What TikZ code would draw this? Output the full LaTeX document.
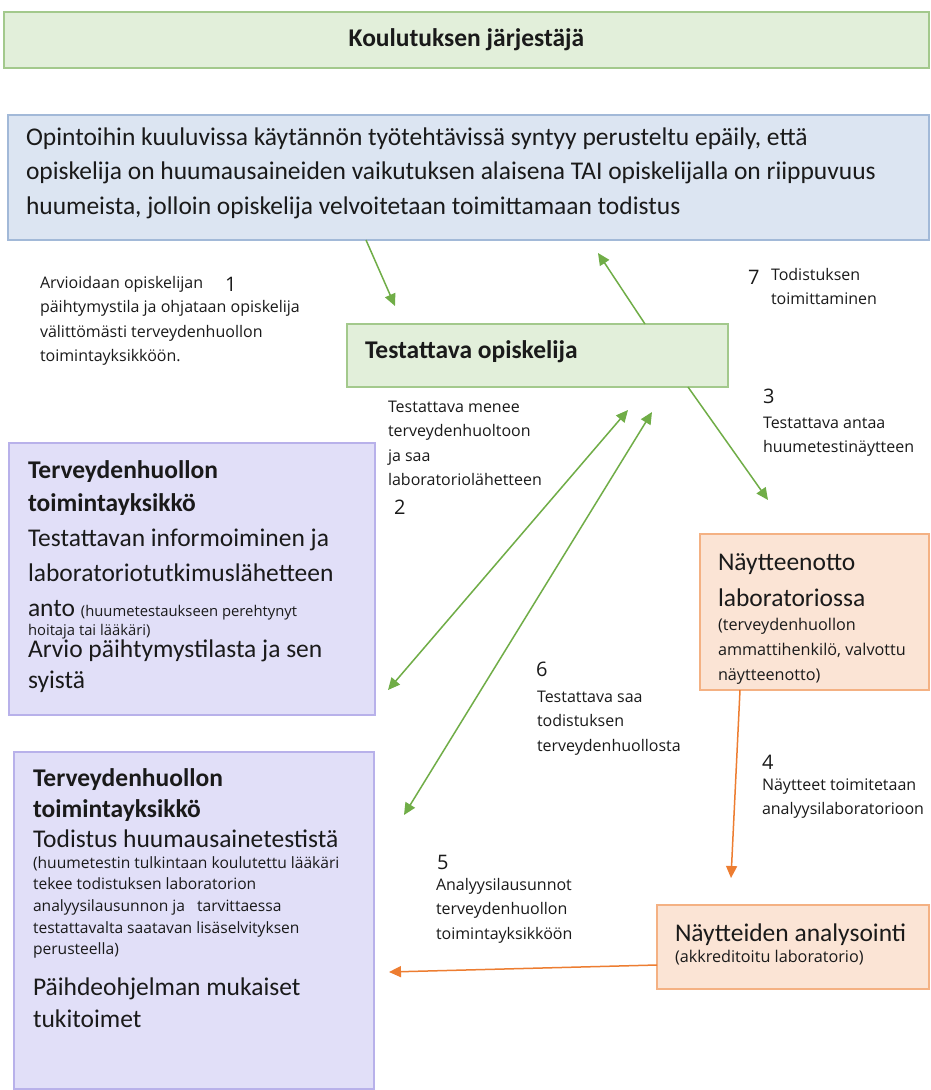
\documentclass[tikz,border=0pt]{standalone}
\usepackage{fontspec}
\setmainfont{Carlito}
\newfontfamily\labfont{Open Sans}
\usetikzlibrary{arrows.meta,calc}
\definecolor{gfill}{HTML}{E2EFDA}
\definecolor{gline}{HTML}{A3C98C}
\definecolor{bfill}{HTML}{DCE5F2}
\definecolor{bline}{HTML}{A2B9D8}
\definecolor{pfill}{HTML}{E1DFF8}
\definecolor{pline}{HTML}{B8B1EA}
\definecolor{ofill}{HTML}{FBE4D5}
\definecolor{oline}{HTML}{F4B183}
\definecolor{garrc}{HTML}{70AD47}
\definecolor{oarrc}{HTML}{ED7D31}
\definecolor{txtc}{HTML}{1A1A1A}
\tikzset{
  box/.style={draw, line width=1.3pt, anchor=north west, inner sep=0pt, outer sep=0pt},
  gbox/.style={box, fill=gfill, draw=gline},
  bbox/.style={box, fill=bfill, draw=bline},
  pbox/.style={box, fill=pfill, draw=pline},
  obox/.style={box, fill=ofill, draw=oline},
  tl/.style={anchor=north west, inner sep=0pt, outer sep=0pt, align=left, text=txtc},
  lab/.style={tl, font=\labfont\fontsize{16}{24.5}\selectfont},
  num/.style={anchor=base west, inner sep=0pt, outer sep=0pt, text=txtc, font=\labfont\fontsize{20}{22}\selectfont},
  garr/.style={draw=garrc, line width=1.5pt, -{Triangle[length=12pt,width=11pt]}},
  garrb/.style={draw=garrc, line width=1.5pt, {Triangle[length=12pt,width=11pt]}-{Triangle[length=12pt,width=11pt]}},
  oarr/.style={draw=oarrc, line width=1.5pt, -{Triangle[length=12pt,width=11pt]}},
}
\begin{document}
\begin{tikzpicture}[x=1pt,y=-1pt]
\useasboundingbox (0,0) rectangle (930,1090);
\fill[white] (0,0) rectangle (930,1090);

% boxes
\node[gbox, minimum width=925pt, minimum height=56pt, text=txtc, font=\bfseries\fontsize{25.5}{30}\selectfont] (org) at (4,12) {Koulutuksen järjestäjä};
\node[bbox, minimum width=921pt, minimum height=125pt] (susp) at (8,115) {};
\node[gbox, minimum width=381pt, minimum height=63pt] (stud) at (347,324) {};
\node[pbox, minimum width=366pt, minimum height=272pt] (hc1) at (9,443) {};
\node[pbox, minimum width=360pt, minimum height=337pt] (hc2) at (14,752) {};
\node[obox, minimum width=229pt, minimum height=156pt] (lab1) at (700,534) {};
\node[obox, minimum width=272pt, minimum height=84pt] (lab2) at (657,905) {};

% box texts
\node[tl, font=\fontsize{25.5}{34.5}\selectfont] (suspt) at (26,120.9) {\strut Opintoihin kuuluvissa käytännön työtehtävissä syntyy perusteltu epäily, että\\opiskelija on huumausaineiden vaikutuksen alaisena TAI opiskelijalla on riippuvuus\\huumeista, jolloin opiskelija velvoitetaan toimittamaan todistus};

\node[tl, font=\bfseries\fontsize{25.5}{30}\selectfont] (studt) at (365,337) {\strut Testattava opiskelija};

\node[tl, font=\bfseries\fontsize{25.5}{33}\selectfont] (hc1a) at (28,454.9) {\strut Terveydenhuollon\\toimintayksikkö};
\node[tl, font=\fontsize{25.5}{35}\selectfont] (hc1b) at (28,521.5) {\strut Testattavan informoiminen ja\\laboratoriotutkimuslähetteen\\anto {\labfont\fontsize{14.8}{20}\selectfont (huumetestaukseen perehtynyt}};
\node[tl, font=\labfont\fontsize{14.8}{20}\selectfont] (hc1c) at (28,621) {\strut hoitaja tai lääkäri)};
\node[tl, font=\fontsize{25.5}{31}\selectfont] (hc1d) at (28,636) {\strut Arvio päihtymystilasta ja sen\\syistä};

\node[tl, font=\bfseries\fontsize{25.5}{31}\selectfont] (hc2a) at (33,764.3) {\strut Terveydenhuollon\\toimintayksikkö};
\node[tl, font=\fontsize{25.5}{31}\selectfont] (hc2b) at (33,825.3) {\strut Todistus huumausainetestistä};
\node[tl, font=\labfont\fontsize{15.6}{21.7}\selectfont] (hc2c) at (33,852.8) {\strut (huumetestin tulkintaan koulutettu lääkäri\\tekee todistuksen laboratorion\\analyysilausunnon ja\ \ \ tarvittaessa\\testattavalta saatavan lisäselvityksen\\perusteella)};
\node[tl, font=\fontsize{25.5}{32}\selectfont] (hc2d) at (33,972.6) {\strut Päihdeohjelman mukaiset\\tukitoimet};

\node[tl, font=\fontsize{25.5}{36}\selectfont] (lab1a) at (718,544.8) {\strut Näytteenotto\\laboratoriossa};
\node[tl, font=\labfont\fontsize{16.2}{25}\selectfont] (lab1b) at (718,612.5) {\strut (terveydenhuollon\\ammattihenkilö, valvottu\\näytteenotto)};

\node[tl, font=\fontsize{25.5}{30}\selectfont] (lab2a) at (675,920) {\strut Näytteiden analysointi};
\node[tl, font=\labfont\fontsize{16.2}{21}\selectfont] (lab2b) at (675,948) {\strut (akkreditoitu laboratorio)};

% step labels
\node[lab] (l1) at (40,270.9) {\strut Arvioidaan opiskelijan\\päihtymystila ja ohjataan opiskelija\\välittömästi terveydenhuollon\\toimintayksikköön.};
\node[num] (n1) at (225,291) {1};
\node[lab] (l7) at (771,262.9) {\strut Todistuksen\\toimittaminen};
\node[num] (n7) at (748,284) {7};
\node[lab] (l2) at (388,394.9) {\strut Testattava menee\\terveydenhuoltoon\\ja saa\\laboratoriolähetteen};
\node[num] (n2) at (394,514) {2};
\node[num] (n3) at (763,403) {3};
\node[lab] (l3) at (763,410.9) {\strut Testattava antaa\\huumetestinäytteen};
\node[num] (n6) at (536,676) {6};
\node[lab] (l6) at (537,684.9) {\strut Testattava saa\\todistuksen\\terveydenhuollosta};
\node[num] (n4) at (762,769) {4};
\node[lab] (l4) at (762,772.9) {\strut Näytteet toimitetaan\\analyysilaboratorioon};
\node[num] (n5) at (437,869) {5};
\node[lab] (l5) at (436,872.9) {\strut Analyysilausunnot\\terveydenhuollon\\toimintayksikköön};

% free arrow ends
\coordinate (t1) at (395,306);
\coordinate (t7) at (598,253);
\coordinate (t3) at (768,500);
\coordinate (a2u) at (628,410);
\coordinate (a2l) at (388,690);
\coordinate (a6u) at (652,412);
\coordinate (a6l) at (404,815);
\coordinate (t4) at (731,878);
\coordinate (t5) at (389,972);

% connectors
\draw[garr] ($(susp.south west)+(358,0)$) -- (t1);
\draw[garr] ($(stud.north west)+(298,0)$) -- (t7);
\draw[garr] ($(stud.south west)+(341,0)$) -- (t3);
\draw[garrb] (a2u) -- (a2l);
\draw[garrb] (a6u) -- (a6l);
\draw[oarr] ($(lab1.south west)+(40,0)$) -- (t4);
\draw[oarr] ($(lab2.south west)+(0,-24)$) -- (t5);
\end{tikzpicture}
\end{document}
